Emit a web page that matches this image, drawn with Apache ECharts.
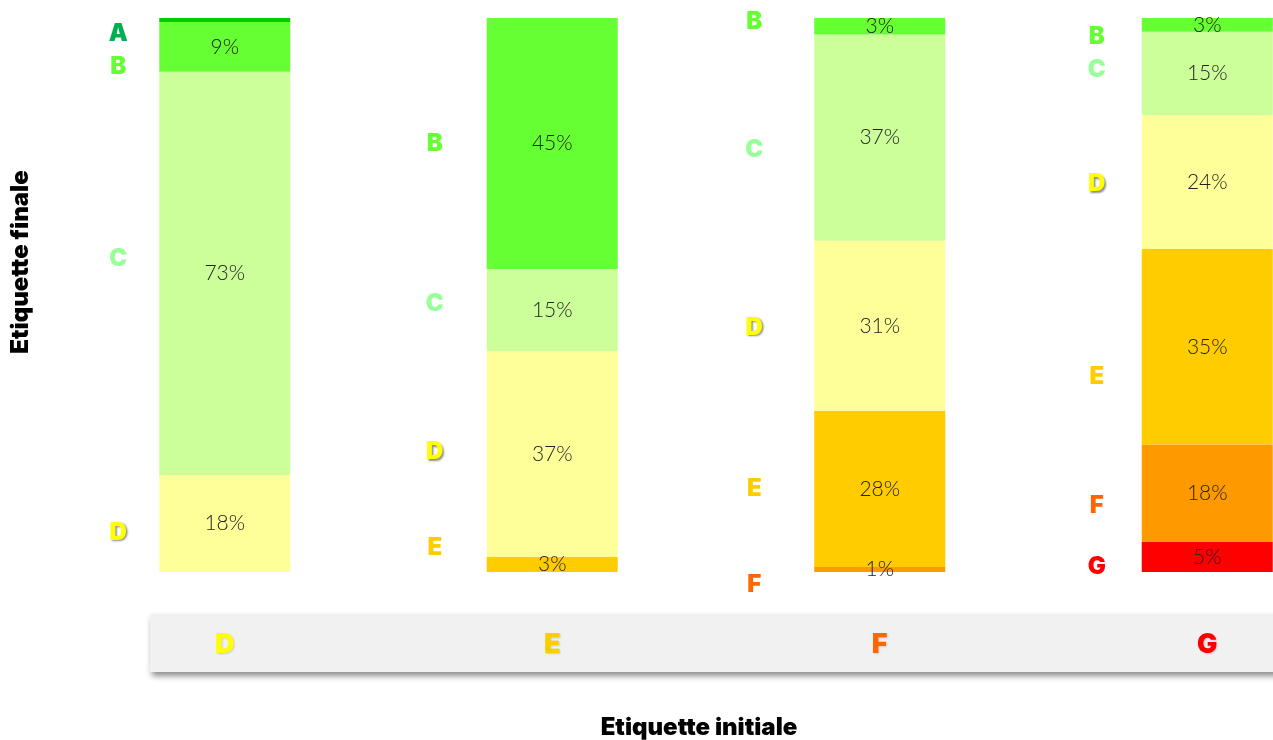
<!DOCTYPE html>
<html>
<head>
<meta charset="utf-8">
<script src="https://cdn.jsdelivr.net/npm/echarts@6/dist/echarts.min.js"></script>
<style>html,body{margin:0;padding:0;background:#fff;}#c{width:1273px;height:740px;}</style>
</head>
<body>
<div id="c"></div>
<script>
// Initial label (x axis categories)
var categories = ['D', 'E', 'F', 'G'];
// Final label letters (stack segments, top to bottom A..G)
var finalLabels = ['A', 'B', 'C', 'D', 'E', 'F', 'G'];
// Share (%) of each final label per initial label category
var valA = [0.7, null, null, null];
var valB = [9.0, 45.3, 3.1, 2.5];
var valC = [72.8, 14.8, 37.2, 15.0];
var valD = [17.5, 37.2, 30.7, 24.2];
var valE = [null, 2.7, 28.2, 35.3];
var valF = [null, null, 0.9, 17.6];
var valG = [null, null, null, 5.4];

var seriesValues = { A: valA, B: valB, C: valC, D: valD, E: valE, F: valF, G: valG };
var barColors = { A: '#00CC00', B: '#66FF33', C: '#CCFF99', D: '#FFFF99', E: '#FFCC00', F: '#FF9900', G: '#FF0000' };
var letterColors = { A: '#00B050', B: '#66FF33', C: '#99FF99', D: '#FFFF00', E: '#FFCC00', F: '#FF6600', G: '#FF0000' };
var catColors = { D: '#FFFF00', E: '#FFCC00', F: '#FF6600', G: '#FF0000' };
// label layout tweaks (px) for the side letters
var letterDx = [-41, -52, -60, -45];
var letterDy = {
  A: [14, 0, 0, 0],
  B: [20, 0, -5, 12],
  C: [-15, -6, 12, -4],
  D: [9, -2, 2, 2],
  E: [0, -17, 0, 30],
  F: [0, 0, 15, 12],
  G: [0, 0, 0, 10]
};

var pctFont = 'Lato, "Noto Sans", sans-serif';
var boldFont = 'Inter, Lato, "Noto Sans", sans-serif';

var series = [];
// bottom to top: G ... A
var order = finalLabels.slice().reverse();
order.forEach(function (k) {
  series.push({
    name: k,
    type: 'bar',
    stack: 'main',
    barWidth: 131,
    data: seriesValues[k],
    itemStyle: { color: barColors[k] },
    label: {
      show: k !== 'A',
      position: 'inside',
      formatter: function (p) { return p.value == null ? '' : Math.round(p.value) + '%'; },
      fontFamily: pctFont,
      fontWeight: 300,
      fontSize: 21,
      color: '#222'
    },
    emphasis: { disabled: true },
    z: 2
  });
});
order.forEach(function (k) {
  var shadow = (k === 'D') ? { textShadowColor: 'rgba(0,0,0,0.45)', textShadowBlur: 2, textShadowOffsetX: 1.5, textShadowOffsetY: 1.5 } : {};
  series.push({
    name: k + '_lbl',
    type: 'bar',
    stack: 'letters',
    barWidth: 131,
    barGap: '-100%',
    data: seriesValues[k],
    itemStyle: { color: 'rgba(0,0,0,0)' },
    silent: true,
    label: Object.assign({
      show: true,
      position: 'inside',
      formatter: function (p) { return p.value == null ? '' : k; },
      fontFamily: boldFont,
      fontWeight: 900,
      fontSize: 24,
      color: letterColors[k]
    }, shadow),
    labelLayout: function (p) {
      return { dx: -65.5 + letterDx[p.dataIndex], dy: letterDy[k][p.dataIndex] };
    },
    z: 3
  });
});

var chart = echarts.init(document.getElementById('c'), null, { renderer: 'canvas' });
chart.setOption({
  animation: false,
  backgroundColor: '#fff',
  grid: { left: 61, top: 18, width: 1310, height: 554, containLabel: false, outerBoundsMode: 'none' },
  graphic: [{
    type: 'rect',
    left: 150, top: 614, z: 0,
    shape: { width: 1140, height: 58 },
    style: { fill: '#F1F1F1', shadowBlur: 6, shadowOffsetY: 4, shadowOffsetX: 2, shadowColor: 'rgba(0,0,0,0.45)' }
  }],
  xAxis: {
    type: 'category',
    data: categories,
    axisLine: { show: false },
    axisTick: { show: false },
    axisLabel: {
      margin: 59,
      fontFamily: boldFont,
      fontWeight: 900,
      fontSize: 27,
      color: function (v) { return catColors[v]; },
      textShadowColor: 'rgba(0,0,0,0.15)',
      textShadowBlur: 2,
      textShadowOffsetX: 1,
      textShadowOffsetY: 1
    },
    name: 'Etiquette initiale',
    nameLocation: 'middle',
    nameGap: 144,
    nameTextStyle: { fontFamily: boldFont, fontWeight: 900, fontSize: 24, color: '#000', padding: [0, 34, 0, 0] },
    z: 5
  },
  yAxis: {
    type: 'value',
    min: 0,
    max: 100,
    axisLine: { show: false },
    axisTick: { show: false },
    axisLabel: { show: false },
    splitLine: { show: false },
    name: 'Etiquette finale',
    nameLocation: 'middle',
    nameRotate: 90,
    nameGap: 28,
    nameTextStyle: { fontFamily: boldFont, fontWeight: 900, fontSize: 24, color: '#000', padding: [0, 0, 0, 66] }
  },
  series: series
});
</script>
</body>
</html>
